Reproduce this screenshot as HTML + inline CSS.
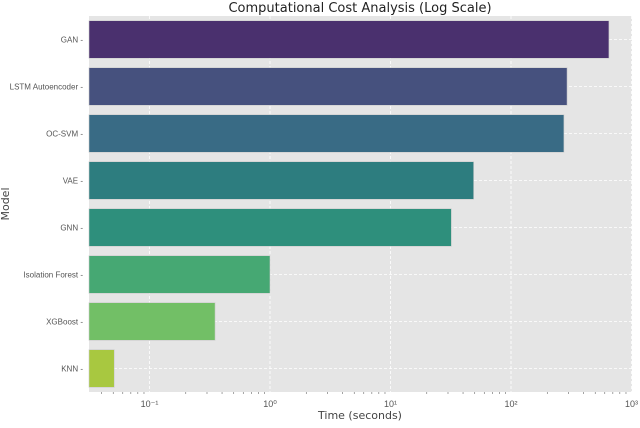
<!DOCTYPE html>
<html><head><meta charset="utf-8"><style>
body{margin:0;background:#fff;font-family:"Liberation Sans","DejaVu Sans",sans-serif}
</style></head><body>
<svg id="chart" width="640" height="423" xmlns="http://www.w3.org/2000/svg">
<text x="360" y="12" text-anchor="middle" font-size="13" fill="#222" font-family="DejaVu Sans, sans-serif">Computational Cost Analysis (Log Scale)</text>
<rect x="89" y="16" width="543" height="376" fill="#e5e5e5"/>
<g id="grid"></g><g id="bars"></g><g id="axes"></g>
<text x="360" y="419" text-anchor="middle" font-size="11" fill="#444" font-family="DejaVu Sans, sans-serif">Time (seconds)</text>
<text transform="translate(9,204) rotate(-90)" text-anchor="middle" font-size="11" fill="#444" font-family="DejaVu Sans, sans-serif">Model</text>
</svg>
<script>
const models=["GAN","LSTM Autoencoder","OC-SVM","VAE","GNN","Isolation Forest","XGBoost","KNN"];
const times=[650,292,275,49,32,1.0,0.35,0.051];
const colors=["#4a306e","#46517e","#396b85","#2d7d7f","#2e8f7c","#46a873","#72bf66","#a8c840"];
const tickExps=[-1,0,1,2,3];
const tickLabels=["10\u207B\u00B9","10\u2070","10\u00B9","10\u00B2","10\u00B3"];
const NS="http://www.w3.org/2000/svg";
const L=89,R=632,T=16,B=392;
const x=v=>270+(Math.log10(v))*120.5;
const band=(B-T)/models.length;
const yc=i=>T+band*(i+0.5);
function mk(tag,attrs,parent){const e=document.createElementNS(NS,tag);for(const k in attrs)e.setAttribute(k,attrs[k]);document.getElementById(parent).appendChild(e);return e;}
tickExps.forEach((e,i)=>{
 const px=x(Math.pow(10,e));
 const g=mk("line",{x1:px,x2:px,y1:T,y2:B,stroke:"#fff","stroke-dasharray":"3,2","stroke-width":0.8},"grid");
 
 
 const t=mk("text",{x:px,y:B+15,"text-anchor":"middle","font-size":9,fill:"#555"},"axes");
 t.textContent=tickLabels[i];
 
 
 for(let m=2;m<10;m++){const mx=x(m*Math.pow(10,e-1));if(mx>L&&mx<R){const mt=mk("line",{x1:mx,x2:mx,y1:B,y2:B+2,stroke:"#666","stroke-width":0.6},"axes");
 
 }}
});
models.forEach((m,i)=>{
 const gl=mk("line",{x1:L,x2:R,y1:yc(i),y2:yc(i),stroke:"#fff","stroke-dasharray":"3,2","stroke-width":0.8},"grid");
 
 
 const h=band*0.8;
 const r=mk("rect",{x:L,y:yc(i)-h/2,width:x(times[i])-L,height:h,fill:colors[i],stroke:"#ccc","stroke-width":0.6},"bars");
 
 
 const t=mk("text",{x:L-6,y:yc(i)+3,"text-anchor":"end","font-size":8,fill:"#555"},"axes");
 t.textContent=m+" -";
 
 
});
</script>
</body></html>
